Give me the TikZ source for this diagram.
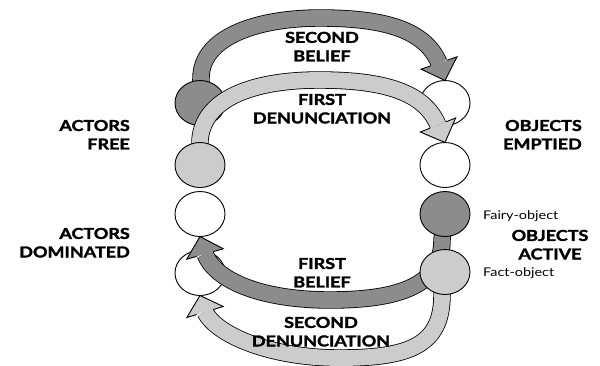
\documentclass[tikz,border=0pt]{standalone}
\usepackage{fontspec}
\setmainfont{Lato}[FakeStretch=1.2, BoldFeatures={FakeBold=2}]
\usetikzlibrary{calc,shapes.geometric}
\definecolor{darkfill}{gray}{0.55}
\definecolor{lightfill}{gray}{0.8}
\tikzset{
  disc/.style={ellipse, draw=black, line width=0.9pt, minimum width=50pt, minimum height=45pt, inner sep=0pt},
  big/.style={font=\fontsize{15}{18.5}\selectfont\bfseries, align=center, inner sep=0pt},
  small/.style={font=\fontsize{12}{14}\selectfont, inner sep=0pt},
}
% #1 colour, #2 shaft path, #3 base middle, #4 tip
\newcommand{\bandarrow}[4]{%
  \draw[line width=17.4pt, line cap=butt] #2;
  \draw[line width=15.8pt, line cap=butt, #1] #2;
  \fill[#1] ($(#3)!19pt!90:(#4)$) -- (#4) -- ($(#3)!19pt!-90:(#4)$) -- cycle;
  \draw[line width=0.9pt, line join=miter] ($(#3)!8.7pt!90:(#4)$) -- ($(#3)!19pt!90:(#4)$) -- (#4) -- ($(#3)!19pt!-90:(#4)$) -- ($(#3)!8.7pt!-90:(#4)$);
}
\begin{document}
\begin{tikzpicture}[x=1pt,y=-1pt]
\useasboundingbox (0,0) rectangle (600,365);
\clip (0,0) rectangle (600,365);
% centres
\coordinate (L1) at (200,103);
\coordinate (L2) at (200,165);
\coordinate (L3) at (200,214);
\coordinate (L4) at (200,273);
\coordinate (R1) at (445,103);
\coordinate (R2) at (445,165);
\coordinate (R3) at (445,214);
\coordinate (R4) at (445,272);
\coordinate (t1) at ($(R1)+(0,-22.5)$);
\coordinate (t2) at ($(R2)+(0,-22.5)$);
\coordinate (t3) at ($(L3)+(0,22.5)$);
\coordinate (t4) at ($(L4)+(0,22.5)$);
\coordinate (m1) at (439,63);
\coordinate (m2) at (438,125);
\coordinate (m3) at (205,254);
\coordinate (m4) at (205,312);
% second belief
\bandarrow{darkfill}{(L1) -- (201,78) .. controls (201,38) and (255,18) .. (320,18) .. controls (385,18) and (425,30) .. (m1)}{m1}{t1}
\node[disc, fill=darkfill] (l1) at (L1) {};
\node[disc, fill=white] (r1) at (R1) {};
% first denunciation
\bandarrow{lightfill}{(L2) -- (200,140) .. controls (203,100) and (250,80) .. (319,80) .. controls (384,80) and (424,92) .. (m2)}{m2}{t2}
\node[disc, fill=lightfill] (l2) at (L2) {};
\node[disc, fill=white] (r2) at (R2) {};
\node[disc, fill=white] (l3) at (L3) {};
\node[disc, fill=white] (l4) at (L4) {};
% first belief
\bandarrow{darkfill}{(R3) -- (442,240) .. controls (442,285) and (400,300) .. (330,300) .. controls (260,300) and (215,280) .. (m3)}{m3}{t3}
% second denunciation
\bandarrow{lightfill}{(R4) -- (442,295) .. controls (442,345) and (410,358) .. (340,358) .. controls (268,358) and (216,334) .. (m4)}{m4}{t4}
\node[disc, fill=darkfill] (r3) at (R3) {};
\node[disc, fill=lightfill] (r4) at (R4) {};
% labels
\node[big] (sb) at (322,46.6) {SECOND\\BELIEF};
\node[big] (fd) at (322,108.7) {FIRST\\DENUNCIATION};
\node[big] (fb) at (322,272.7) {FIRST\\BELIEF};
\node[big] (sd) at (321,331.7) {SECOND\\DENUNCIATION};
\node[big, align=right, anchor=east] (af) at (130,134.7) {ACTORS\\FREE};
\node[big, align=right, anchor=east] (ad) at (130,242.7) {ACTORS\\DOMINATED};
\node[big, align=right, anchor=east] (oe) at (582,134.7) {OBJECTS\\EMPTIED};
\node[big] (oa) at (550,244.7) {OBJECTS\\ACTIVE};
\node[small, anchor=base west] (fo) at (483,219) {Fairy-object};
\node[small, anchor=base west] (fc) at (483,276) {Fact-object};
\end{tikzpicture}
\end{document}
